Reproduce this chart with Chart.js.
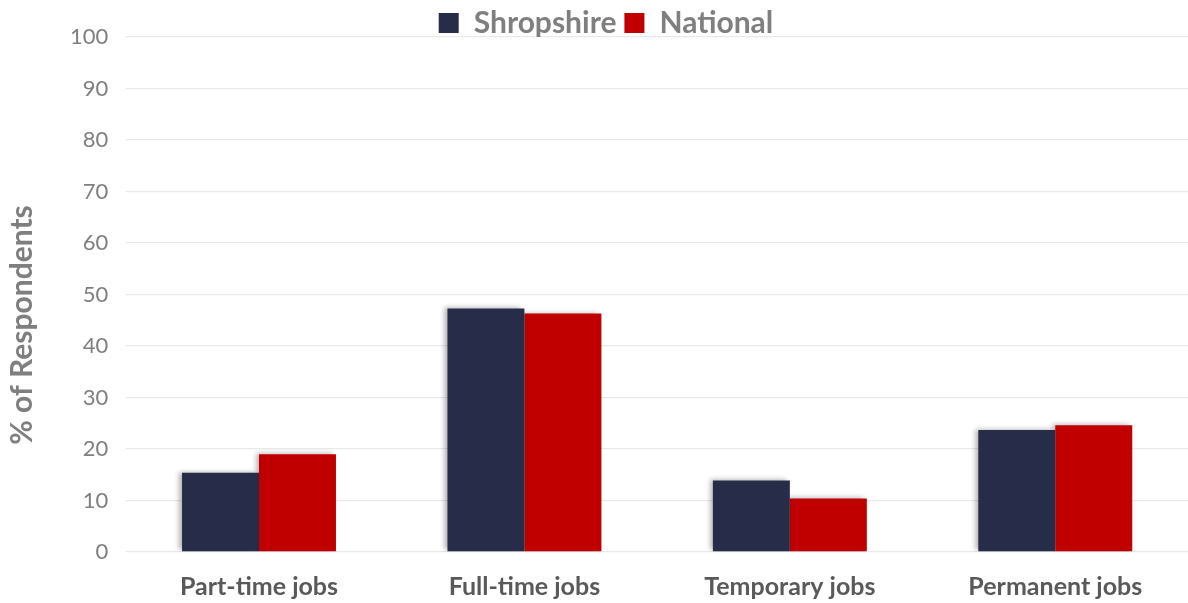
<!DOCTYPE html>
<html>
<head>
<meta charset="utf-8">
<script src="https://cdn.jsdelivr.net/npm/chart.js@4.4.1/dist/chart.umd.min.js"></script>
<style>
  html, body { margin: 0; padding: 0; background: #fff; }
  #wrap { width: 1188px; height: 603px; position: relative; }
</style>
</head>
<body>
<div id="wrap"><canvas id="chart"></canvas></div>
<script>
const categories = ['Part-time jobs', 'Full-time jobs', 'Temporary jobs', 'Permanent jobs'];
const shropshire = [15.4, 47.3, 13.9, 23.7];
const national = [19.0, 46.3, 10.4, 24.6];
const yTitle = '% of Respondents';

// soft shadow behind the bars
const barShadow = {
    id: 'barShadow',
    beforeDatasetsDraw(chart) {
        const c = chart.ctx;
        c.save();
        c.shadowColor = 'rgba(0,0,0,0.3)';
        c.shadowBlur = 5;
        c.shadowOffsetX = -3;
        c.shadowOffsetY = -1;
    },
    afterDatasetsDraw(chart) {
        chart.ctx.restore();
    }
};

// let the plot sit closer to the legend
const legendTight = {
    id: 'legendTight',
    beforeInit(chart) {
        const origFit = chart.legend.fit;
        chart.legend.fit = function () {
            origFit.bind(chart.legend)();
            this.height -= 11;
        };
    }
};

// y axis title, sitting a bit below the plot's middle like the original
const yTitlePlugin = {
    id: 'yTitlePlugin',
    afterDraw(chart) {
        const c = chart.ctx;
        c.save();
        c.translate(22, 325);
        c.rotate(-Math.PI / 2);
        c.font = 'bold 30px Lato';
        c.fillStyle = '#7f7f7f';
        c.textAlign = 'center';
        c.textBaseline = 'middle';
        c.fillText(yTitle, 0, 0);
        c.restore();
    }
};

new Chart(document.getElementById('chart'), {
    type: 'bar',
    data: {
        labels: categories,
        datasets: [
            { label: 'Shropshire', data: shropshire, backgroundColor: '#272c48' },
            { label: 'National', data: national, backgroundColor: '#c00000' }
        ]
    },
    options: {
        responsive: true,
        maintainAspectRatio: false,
        animation: false,
        layout: { padding: { left: 24, right: 0, top: 0, bottom: 0 } },
        datasets: {
            bar: { categoryPercentage: 0.58, barPercentage: 1.0 }
        },
        plugins: {
            legend: {
                position: 'top',
                labels: {
                    color: '#7f7f7f',
                    font: { family: 'Lato', size: 30, weight: 'bold' },
                    boxWidth: 20,
                    boxHeight: 20,
                    padding: 8
                }
            },
            tooltip: { enabled: false }
        },
        scales: {
            x: {
                grid: { display: false, drawTicks: false },
                border: { display: false },
                afterFit: (scale) => { scale.height -= 18; },
                ticks: {
                    color: '#595959',
                    font: { family: 'Lato', size: 25, weight: 'bold', lineHeight: 1 },
                    padding: 22
                }
            },
            y: {
                min: 0,
                max: 100,
                afterFit: (scale) => { scale.width += 28; },
                ticks: {
                    stepSize: 10,
                    color: '#7f7f7f',
                    font: { family: 'Lato', size: 22 },
                    padding: 18
                },
                grid: { color: '#e9e9e9', lineWidth: 1.3, drawTicks: false },
                border: { display: false }
            }
        }
    },
    plugins: [barShadow, legendTight, yTitlePlugin]
});
</script>
</body>
</html>
